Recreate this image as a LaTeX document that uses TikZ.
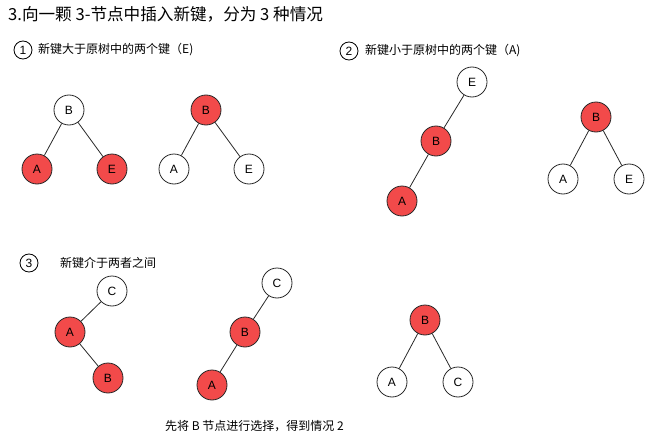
\documentclass[tikz,border=0pt]{standalone}
\usepackage{fontspec}
\setmainfont{Liberation Sans}
\newfontfamily\cjk{Noto Sans CJK SC}
\definecolor{nodered}{RGB}{242,74,74}
\definecolor{edgegray}{RGB}{40,40,40}
\tikzset{
  tnode/.style={circle, draw=edgegray, line width=0.8pt, minimum size=30pt, inner sep=0pt, font=\fontsize{12}{14}\selectfont},
  rnode/.style={tnode, fill=nodered},
  wnode/.style={tnode, fill=white},
  edge/.style={draw=edgegray, line width=0.8pt},
  numcirc/.style={circle, draw=black, line width=0.8pt, minimum size=18pt, inner sep=0pt, font=\fontsize{12}{14}\selectfont},
  label12/.style={anchor=west, inner sep=0pt, font=\cjk\fontsize{12}{14}\selectfont},
}
\begin{document}
\begin{tikzpicture}[x=1pt,y=-1pt]
\useasboundingbox (0,0) rectangle (657,439);
% title
\node[anchor=west, inner sep=0pt, font=\cjk\fontsize{16.6}{20}\selectfont] (title) at (8,14) {3.向一颗 3-节点中插入新键，分为 3 种情况};
% case 1
\node[numcirc] (n1) at (23,50) {1};
\node[label12] (t1) at (38,50) {新键大于原树中的两个键（E)};
\node[wnode] (a1B) at (69,110) {B};
\node[rnode] (a1A) at (37,169) {A};
\node[rnode] (a1E) at (112,169) {E};
\draw[edge] (a1B) -- (a1A);
\draw[edge] (a1B) -- (a1E);
\node[rnode] (b1B) at (206,110) {B};
\node[wnode] (b1A) at (174,169) {A};
\node[wnode] (b1E) at (249,169) {E};
\draw[edge] (b1B) -- (b1A);
\draw[edge] (b1B) -- (b1E);
% case 2
\node[numcirc] (n2) at (349,51) {2};
\node[label12] (t2) at (365,51) {新键小于原树中的两个键（A)};
\node[wnode] (a2E) at (472,82) {E};
\node[rnode] (a2B) at (436,141) {B};
\node[rnode] (a2A) at (402,201) {A};
\draw[edge] (a2E) -- (a2B);
\draw[edge] (a2B) -- (a2A);
\node[rnode] (b2B) at (596,117) {B};
\node[wnode] (b2A) at (563,179) {A};
\node[wnode] (b2E) at (629,179) {E};
\draw[edge] (b2B) -- (b2A);
\draw[edge] (b2B) -- (b2E);
% case 3
\node[numcirc] (n3) at (29,263) {3};
\node[label12] (t3) at (60,263) {新键介于两者之间};
\node[wnode] (a3C) at (112,291) {C};
\node[rnode] (a3A) at (70,332) {A};
\node[rnode] (a3B) at (108,378) {B};
\draw[edge] (a3C) -- (a3A);
\draw[edge] (a3A) -- (a3B);
\node[wnode] (b3C) at (277,283) {C};
\node[rnode] (b3B) at (245,332) {B};
\node[rnode] (b3A) at (212,385) {A};
\draw[edge] (b3C) -- (b3B);
\draw[edge] (b3B) -- (b3A);
\node[rnode] (c3B) at (425,320) {B};
\node[wnode] (c3A) at (392,382) {A};
\node[wnode] (c3C) at (458,382) {C};
\draw[edge] (c3B) -- (c3A);
\draw[edge] (c3B) -- (c3C);
\node[label12] (t4) at (165,426) {先将 B 节点进行选择，得到情况 2};
\end{tikzpicture}
\end{document}
